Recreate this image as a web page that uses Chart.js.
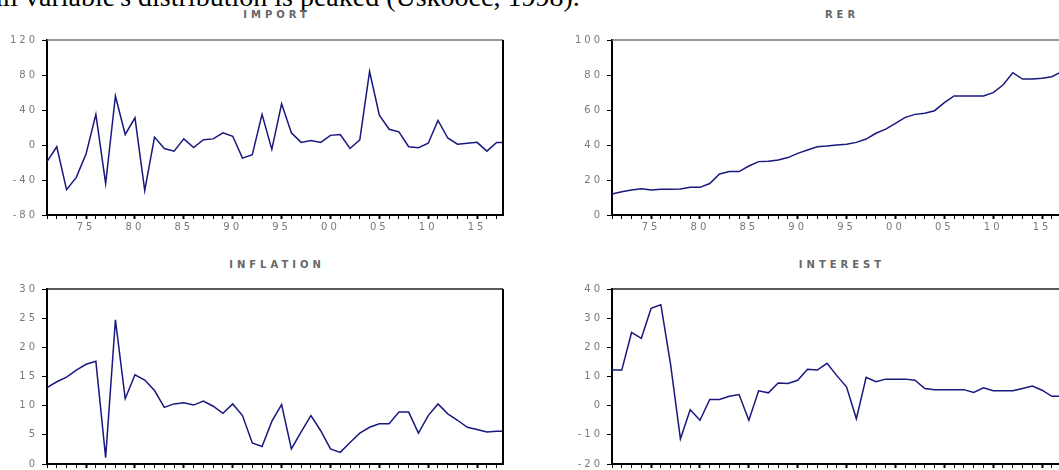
<!DOCTYPE html>
<html>
<head>
<meta charset="utf-8">
<script src="https://cdn.jsdelivr.net/npm/chart.js@4"></script>
<style>
  html, body { margin: 0; padding: 0; background: #fff; }
  body { width: 1059px; height: 470px; overflow: hidden; position: relative; }
  .lead { position: absolute; left: -10px; top: -17px; font-family: "Liberation Serif", serif; font-size: 28px; line-height: 28px; white-space: nowrap; color: #000; }
  .panel { position: absolute; width: 520px; height: 240px; }
  .ttl { position: absolute; width: 200px; font-family: "DejaVu Sans", sans-serif; font-weight: bold; font-size: 10px; line-height: 12px; letter-spacing: 4px; color: #666; text-align: center; white-space: nowrap; }
</style>
</head>
<body>
<div class="lead">all variable's distribution is peaked (Uskoocc, 1998).</div>

<div class="ttl" style="left:177px; top:9px;">IMPORT</div>
<div class="ttl" style="left:742px; top:9px;">RER</div>
<div class="ttl" style="left:177px; top:259px;">INFLATION</div>
<div class="ttl" style="left:742px; top:259px;">INTEREST</div>

<div class="panel" style="left:0px; top:0px;"><canvas id="import"></canvas></div>
<div class="panel" style="left:565px; top:0px;"><canvas id="rer"></canvas></div>
<div class="panel" style="left:0px; top:249px;"><canvas id="inflation"></canvas></div>
<div class="panel" style="left:565px; top:249px;"><canvas id="interest"></canvas></div>

<script>
// yearly observations, 1971 - 2018 (last one sits on the right edge)
const years = [1971, 1972, 1973, 1974, 1975, 1976, 1977, 1978, 1979, 1980,
               1981, 1982, 1983, 1984, 1985, 1986, 1987, 1988, 1989, 1990,
               1991, 1992, 1993, 1994, 1995, 1996, 1997, 1998, 1999, 2000,
               2001, 2002, 2003, 2004, 2005, 2006, 2007, 2008, 2009, 2010,
               2011, 2012, 2013, 2014, 2015, 2016, 2017, 2018]

const importValues = [-19, -2, -51, -37, -10, 35, -44, 56, 12, 31,
                      -52, 9, -4, -7, 7, -3, 6, 7, 14, 10,
                      -15, -11, 35, -5, 47, 14, 3, 5, 3, 11,
                      12, -4, 6, 84, 34, 18, 15, -2, -3, 2,
                      28, 8, 1, 2, 3, -7, 3, 3]

const rerValues = [12, 13.3, 14.3, 15, 14.3, 14.7, 14.7, 14.9, 15.8, 15.8,
                   18, 23.4, 24.8, 24.8, 28, 30.5, 30.7, 31.4, 32.8, 35.2,
                   37.1, 39, 39.4, 40, 40.4, 41.5, 43.4, 46.7, 49.1, 52.4,
                   55.8, 57.5, 58.1, 59.6, 64.2, 68, 68, 68, 68, 69.9,
                   74.3, 81.3, 77.7, 77.7, 78.1, 79, 81.9, 83]

const inflationValues = [13.1, 14.1, 14.9, 16.1, 17.1, 17.6, 1.1, 24.7, 11.2, 15.3,
                         14.4, 12.6, 9.7, 10.3, 10.5, 10.1, 10.8, 9.9, 8.7, 10.3,
                         8.3, 3.6, 3.0, 7.3, 10.2, 2.6, 5.5, 8.3, 5.7, 2.6,
                         2.0, 3.7, 5.3, 6.3, 6.9, 6.9, 8.9, 8.9, 5.3, 8.3,
                         10.3, 8.6, 7.5, 6.3, 5.9, 5.5, 5.6, 5.6]

const interestValues = [12.2, 12.2, 25.1, 23.1, 33.4, 34.6, 14, -11.4, -1.4, -5,
                        2.1, 2.1, 3.2, 3.8, -5, 5.1, 4.4, 7.8, 7.6, 8.7,
                        12.5, 12.2, 14.5, 10.3, 6.4, -4.5, 9.7, 8.2, 9.1, 9.1,
                        9.1, 8.7, 5.9, 5.5, 5.5, 5.5, 5.5, 4.5, 6.1, 5.1,
                        5.1, 5.1, 5.9, 6.7, 5.3, 3.2, 3.2, 3.2]

// x axis tick labels
const labelYears = [1975, 1980, 1985, 1990, 1995, 2000, 2005, 2010, 2015]
const tickLabels = ['75', '80', '85', '90', '95', '00', '05', '10', '15']

// y axis ticks for each panel
const importTicks = [-80, -40, 0, 40, 80, 120]
const rerTicks = [0, 20, 40, 60, 80, 100]
const inflationTicks = [0, 5, 10, 15, 20, 25, 30]
const interestTicks = [-20, -10, 0, 10, 20, 30, 40]

const lineColor = '#18187f'
const labelFont = { family: 'DejaVu Sans', size: 10 }

// box around the plot: top + right sides, and wide tick labels
const frame = {
    id: 'frame',
    beforeDraw(chart) {
        chart.ctx.letterSpacing = '3px'
    },
    afterDraw(chart, args, opts) {
        const ctx = chart.ctx
        const a = chart.chartArea
        ctx.save()
        ctx.strokeStyle = opts.topColor
        ctx.lineWidth = 1.5
        ctx.beginPath()
        ctx.moveTo(a.left, a.top)
        ctx.lineTo(a.right, a.top)
        ctx.stroke()
        ctx.strokeStyle = '#000'
        ctx.lineWidth = 2
        ctx.beginPath()
        ctx.moveTo(a.right, a.top)
        ctx.lineTo(a.right, a.bottom)
        ctx.stroke()
        ctx.restore()
    }
}

function makeChart(id, values, yTicks, topColor) {
    new Chart(document.getElementById(id), {
        type: 'line',
        data: {
            datasets: [{
                data: years.map((yr, i) => ({ x: yr, y: values[i] })),
                borderColor: lineColor,
                borderWidth: 1.5,
                pointRadius: 0,
                tension: 0,
                fill: false
            }]
        },
        options: {
            responsive: true,
            maintainAspectRatio: false,
            animation: false,
            layout: { padding: { left: 0, right: 17, top: 40, bottom: 5 } },
            plugins: {
                legend: { display: false },
                tooltip: { enabled: false },
                frame: { topColor: topColor }
            },
            scales: {
                x: {
                    type: 'linear',
                    min: 1971,
                    max: 2017.65,
                    afterFit: (s) => { s.height = 20 },
                    border: { color: '#000', width: 2 },
                    grid: {
                        drawOnChartArea: false,
                        drawTicks: true,
                        tickLength: 4,
                        tickColor: '#000',
                        tickWidth: (c) => (c.tick && labelYears.includes(c.tick.value)) ? 2 : 1
                    },
                    ticks: {
                        stepSize: 1,
                        maxTicksLimit: 100,
                        autoSkip: false,
                        maxRotation: 0,
                        includeBounds: false,
                        padding: 2,
                        color: '#7a7a7a',
                        font: labelFont,
                        callback: (v) => {
                            const k = labelYears.indexOf(v)
                            return k >= 0 ? tickLabels[k] : ''
                        }
                    }
                },
                y: {
                    min: yTicks[0],
                    max: yTicks[yTicks.length - 1],
                    afterFit: (s) => { s.width = 47 },
                    border: { color: '#000', width: 2 },
                    grid: { drawOnChartArea: false, tickLength: 5, tickColor: '#000' },
                    ticks: {
                        stepSize: yTicks[1] - yTicks[0],
                        padding: 4,
                        color: '#7a7a7a',
                        font: labelFont
                    }
                }
            }
        },
        plugins: [frame]
    })
}

makeChart('import', importValues, importTicks, '#777')
makeChart('rer', rerValues, rerTicks, '#777')
makeChart('inflation', inflationValues, inflationTicks, '#222')
makeChart('interest', interestValues, interestTicks, '#222')
</script>
</body>
</html>
